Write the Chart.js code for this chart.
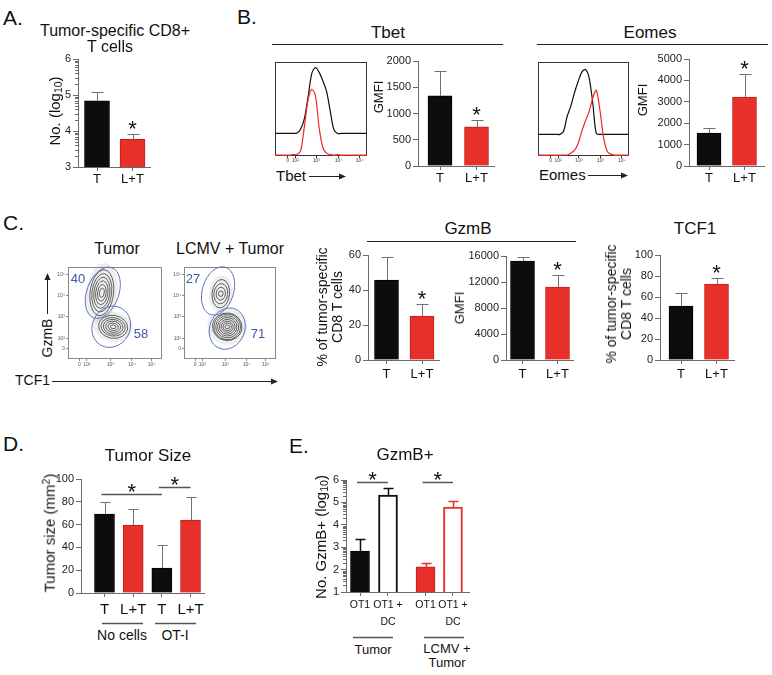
<!DOCTYPE html>
<html>
<head>
<meta charset="utf-8">
<script src="https://cdn.jsdelivr.net/npm/chart.js@4"></script>
<style>
  body { margin: 0; background: #fff; }
  #fig { position: relative; width: 772px; height: 675px; overflow: hidden; font-family: "Liberation Sans", Arial, sans-serif; color: #111; }
  #fig canvas { position: absolute; }
  #lines { position: absolute; left: 0; top: 0; }
  .t { position: absolute; white-space: nowrap; line-height: 1.1; text-align: center; transform: translate(-50%, -50%); }
  .t.l { transform: translate(0, -50%); }
  .t.r { transform: translate(-50%, -50%) rotate(-90deg); }
  .t sub { font-size: 0.7em; vertical-align: -0.25em; line-height: 0; }
  .t sup { font-size: 0.7em; vertical-align: 0.45em; line-height: 0; }
</style>
</head>
<body>
<div id="fig"><svg id="lines" width="772" height="675"></svg></div>
<script>
const FONT = '"Liberation Sans", Arial, sans-serif';
Chart.defaults.font.family = FONT;
Chart.defaults.color = '#111';

// A. tumor-specific CD8+ T cells (log10 counts)
const groupLabels = ['T', 'L+T'];
const twoPos = [1, 2];
const cd8Log = [4.84, 3.77];
const cd8LogErr = [0.25, 0.16];
const cd8Sig = ['', '*'];

// B. Tbet / Eomes GMFI
const tbetMfi = [1335, 745];
const tbetMfiErr = [475, 130];
const tbetSig = ['', '*'];
const eomesMfi = [1540, 3225];
const eomesMfiErr = [235, 1075];
const eomesSig = ['', '*'];

// B. histograms (T black, L+T red)
const histBins = [0, 4, 8, 12, 16, 20, 24, 28, 32, 36, 40, 44, 48, 52, 56, 60, 64, 68, 72, 76, 80, 84, 88, 92, 96, 100];
const tbetHistT = [24, 24, 24, 24, 24, 24, 24.5, 29, 40, 63, 88, 94, 89, 80, 69, 48, 28, 24, 24, 24, 24, 24, 24, 24, 24, 24];
const tbetHistLT = [1, 1, 1, 1, 1, 1.5, 1.5, 6, 32, 60, 71, 64, 30, 9, 3, 1.5, 1, 1.5, 1, 1, 1, 1, 1, 1, 1, 1];
const eomesHistT = [23, 23, 23, 23, 23, 23, 23, 26, 42, 53, 67, 79, 89, 92, 84, 58, 24, 23, 23, 23, 23, 23, 23, 23, 23, 23];
const eomesHistLT = [1, 1, 1, 1, 1, 1, 1, 1, 1, 3, 6, 13, 26, 37, 47, 61, 70, 49, 20, 5, 2, 1, 1, 1, 1, 1];
const histTickPos = [14, 22, 45, 69, 92];
const logTickLabels = ['0', '10²', '10³', '10⁴', '10⁵'];

// C. flow plots GzmB vs TCF1
const flowXTickPos = [12, 20, 45, 68, 89];
const flowYTickPos = [11, 22, 46, 69, 92];
const tumorGateFreq = ['40', '58'];
const lcmvGateFreq = ['27', '71'];
const tumorContourCx = [36, 48];
const tumorContourCy = [72, 35];
const tumorContourRx = [[2.5, 4.5, 6.5, 8.5, 10.5, 12.5], [3, 5.5, 8, 10.5, 13, 15.5]];
const tumorContourRy = [[5, 9, 13, 17, 21, 25], [2, 4, 6, 8, 10, 12.5]];
const tumorContourRot = [0.12, 0.15];
const lcmvContourCx = [40, 47];
const lcmvContourCy = [71, 35];
const lcmvContourRx = [[2.5, 5, 7.5, 9.5], [2.5, 4.5, 6.5, 8.5, 10.5, 12.5, 14.5, 16]];
const lcmvContourRy = [[3, 7, 11, 15.5], [2, 4, 6, 8, 10, 12, 14, 15]];
const lcmvContourRot = [0.1, 0.1];
const tumorGateCx = [37, 46];
const tumorGateCy = [72, 35];
const tumorGateRx = [17, 20];
const tumorGateRy = [29, 23];
const tumorGateRot = [0.35, 0.5];
const lcmvGateCx = [37, 47];
const lcmvGateCy = [74, 33];
const lcmvGateRx = [17, 19];
const lcmvGateRy = [27, 23];
const lcmvGateRot = [0.3, 0.4];

// C. GzmB and TCF1 bars
const gzmbPct = [45.7, 25.1];
const gzmbPctErr = [13.2, 6.9];
const gzmbPctSig = ['', '*'];
const gzmbMfi = [15230, 11230];
const gzmbMfiErr = [620, 1850];
const gzmbMfiSig = ['', '*'];
const tcf1Pct = [51.4, 72.4];
const tcf1PctErr = [12.6, 5.7];
const tcf1PctSig = ['', '*'];

// D. tumor size
const sizeLabels = ['T', 'L+T', 'T', 'L+T'];
const fourPos = [1, 2, 3, 4];
const sizeMm2 = [69.3, 59.6, 21.9, 64];
const sizeMm2Err = [10.5, 14.1, 20.1, 20];
const sizeGroups = ['No cells', 'OT-I'];
const sizeSigFrom = [0, 2];
const sizeSigTo = [2, 3];
const sizeSigAt = [87, 93];

// E. GzmB+ counts (log10)
const gzmbPlusLabels = ['OT1', ['OT1 +', 'DC'], 'OT1', ['OT1 +', 'DC']];
const gzmbPlusPos = [1, 2, 3.34, 4.32];
const gzmbPlusLog = [2.83, 5.33, 2.12, 4.79];
const gzmbPlusLogErr = [0.54, 0.31, 0.17, 0.27];
const gzmbPlusGroups = ['Tumor', 'LCMV +<br>Tumor'];
const gzmbPlusSigFrom = [0, 2];
const gzmbPlusSigTo = [1, 3];
const gzmbPlusSigAt = [5.91, 5.91];

const BLACK = '#0d0d0d', RED = '#e8302a', RED_EDGE = '#c21f18', ERR = '#707070', AXIS = '#6a6a6a';
const fig = document.getElementById('fig');

function addCanvas(x, y, w, h) {
  const c = document.createElement('canvas');
  c.width = w; c.height = h;
  c.style.left = x + 'px'; c.style.top = y + 'px';
  c.style.width = w + 'px'; c.style.height = h + 'px';
  fig.appendChild(c);
  return c;
}

function text(html, x, y, size, cls, extra) {
  const el = document.createElement('div');
  el.className = 't' + (cls ? ' ' + cls : '');
  el.innerHTML = html;
  el.style.left = x + 'px';
  el.style.top = y + 'px';
  el.style.fontSize = size + 'px';
  if (extra) Object.assign(el.style, extra);
  fig.appendChild(el);
}

// error bars, stars, significance lines, log minor ticks
const marks = {
  id: 'marks',
  afterDatasetsDraw(chart, args, o) {
    const ctx = chart.ctx, xs = chart.scales.x, ys = chart.scales.y;
    const bars = chart.getDatasetMeta(0).data;
    ctx.save();
    ctx.lineWidth = 1;
    if (o.log) {
      ctx.strokeStyle = AXIS;
      for (let n = ys.min; n < ys.max; n++) {
        for (let k = 2; k < 10; k++) {
          const py = Math.round(ys.getPixelForValue(n + Math.log10(k))) + 0.5;
          ctx.beginPath(); ctx.moveTo(xs.left - 3, py); ctx.lineTo(xs.left, py); ctx.stroke();
        }
      }
    }
    ctx.fillStyle = '#111';
    ctx.font = '22px ' + FONT;
    ctx.textAlign = 'center';
    bars.forEach((b, i) => {
      const top = Math.round(ys.getPixelForValue(o.values[i] + o.errors[i])) + 0.5;
      const x = Math.round(b.x) + 0.5;
      ctx.strokeStyle = o.errColor[i];
      ctx.lineWidth = o.errWidth;
      ctx.beginPath();
      ctx.moveTo(x, b.y); ctx.lineTo(x, top);
      ctx.moveTo(x - o.cap, top); ctx.lineTo(x + o.cap, top);
      ctx.stroke();
      if (o.stars && o.stars[i]) ctx.fillText(o.stars[i], b.x, top + 1);
    });
    (o.sig || []).forEach(s => {
      const py = Math.round(ys.getPixelForValue(s.at)) + 0.5;
      const x1 = bars[s.from].x - 3, x2 = bars[s.to].x;
      ctx.strokeStyle = '#555';
      ctx.lineWidth = 1.5;
      ctx.beginPath(); ctx.moveTo(x1, py); ctx.lineTo(x2, py); ctx.stroke();
      ctx.fillText('*', (x1 + x2) / 2, py + 4);
    });
    ctx.restore();
  }
};

const frame = {
  id: 'frame',
  beforeDatasetsDraw(chart, args, o) {
    const { ctx, chartArea: c } = chart;
    ctx.save();
    ctx.strokeStyle = o.color;
    ctx.lineWidth = 1;
    ctx.strokeRect(c.left + 0.5, c.top + 0.5, c.width - 1, c.height - 1);
    ctx.restore();
  }
};

const flowDraw = {
  id: 'flowDraw',
  afterDatasetsDraw(chart, args, o) {
    const { ctx, scales: { x, y } } = chart;
    const path = (cx, cy, rx, ry, rot) => {
      const px = x.getPixelForValue(cx), py = y.getPixelForValue(cy);
      ctx.beginPath();
      ctx.ellipse(px, py, Math.abs(x.getPixelForValue(cx + rx) - px), Math.abs(y.getPixelForValue(cy + ry) - py), rot, 0, Math.PI * 2);
    };
    const c = o.contours;
    ctx.save();
    // faint cloud of events around each population
    ctx.fillStyle = 'rgba(90,90,90,0.10)';
    c.cx.forEach((cx, i) => {
      const n = c.rx[i].length - 1;
      path(cx, c.cy[i], c.rx[i][n] * 1.35, c.ry[i][n] * 1.3, c.rot[i]);
      ctx.fill();
    });
    ctx.strokeStyle = '#3a3a3a';
    ctx.lineWidth = 0.8;
    c.cx.forEach((cx, i) => {
      c.rx[i].forEach((rx, j) => { path(cx, c.cy[i], rx, c.ry[i][j], c.rot[i]); ctx.stroke(); });
    });
    ctx.strokeStyle = '#5b74bd';
    ctx.lineWidth = 1;
    o.gates.cx.forEach((cx, i) => {
      path(cx, o.gates.cy[i], o.gates.rx[i], o.gates.ry[i], o.gates.rot[i]);
      ctx.stroke();
    });
    ctx.restore();
  }
};

function bars(g, d) {
  const P = 16;
  const left = g.L - g.W, top = g.top - P;
  const cv = addCanvas(left, top, g.right - left + 6, g.bottom - top + g.H);
  const xmin = d.pos[0] - (g.c1 - g.L) / g.k;
  const xmax = xmin + (g.right - g.L) / g.k;
  new Chart(cv, {
    type: 'bar',
    data: {
      datasets: [{
        data: d.pos.map((p, i) => ({ x: p, y: d.values[i] })),
        backgroundColor: d.fill,
        borderColor: d.stroke,
        borderWidth: d.bw,
        barThickness: g.bar
      }]
    },
    options: {
      responsive: false,
      animation: false,
      events: [],
      layout: { padding: { top: P, right: 6, left: 0, bottom: 0 } },
      scales: {
        x: {
          type: 'linear', min: xmin, max: xmax, offset: false,
          afterFit: s => { s.height = g.H; },
          afterBuildTicks: s => { s.ticks = d.pos.map(v => ({ value: v })); },
          ticks: { callback: (v, i) => d.labels[i], autoSkip: false, maxRotation: 0, padding: g.xpad, color: '#111', font: d.xFont || { size: 13 } },
          grid: { drawOnChartArea: false, offset: false, tickLength: 4, color: AXIS },
          border: { color: AXIS }
        },
        y: {
          min: d.min, max: d.max,
          afterFit: s => { s.width = g.W; },
          ticks: { stepSize: d.step, callback: v => String(v), color: '#222', font: { size: 11 }, padding: 2 },
          grid: { drawOnChartArea: false, tickLength: 5, color: AXIS },
          border: { color: AXIS }
        }
      },
      plugins: {
        legend: { display: false },
        tooltip: { enabled: false },
        marks: {
          values: d.values, errors: d.errors, errColor: d.errColor, errWidth: d.errWidth || 1,
          cap: g.cap, stars: d.stars, sig: d.sig, log: d.log
        }
      }
    },
    plugins: [marks]
  });
}

function hist(box, tSeries, ltSeries) {
  const cv = addCanvas(box.x, box.y, box.w, box.h + 9);
  const line = (series, color) => ({
    data: histBins.map((b, i) => ({ x: b, y: series[i] })),
    borderColor: color, borderWidth: 1.2, pointRadius: 0, tension: 0.3
  });
  new Chart(cv, {
    type: 'line',
    data: { datasets: [line(ltSeries, '#ee2a24'), line(tSeries, '#111')] },
    options: {
      responsive: false, animation: false, events: [],
      layout: { padding: 0 },
      scales: {
        x: {
          type: 'linear', min: 0, max: 100,
          afterFit: s => { s.height = 9; },
          afterBuildTicks: s => { s.ticks = histTickPos.map(v => ({ value: v })); },
          ticks: { callback: (v, i) => logTickLabels[i], font: { size: 5 }, color: '#444', padding: 0, maxRotation: 0, autoSkip: false },
          grid: { drawOnChartArea: false, tickLength: 2, color: '#333' },
          border: { display: false }
        },
        y: { display: false, min: 0, max: 100 }
      },
      plugins: { legend: { display: false }, tooltip: { enabled: false }, frame: { color: '#333' } }
    },
    plugins: [frame]
  });
}

function flow(box, contours, gates) {
  const cv = addCanvas(box.x - 12, box.y - 4, box.w + 14, box.h + 14);
  const tiny = { font: { size: 5 }, color: '#555', padding: 1, maxRotation: 0, autoSkip: false, callback: (v, i) => logTickLabels[i] };
  new Chart(cv, {
    type: 'scatter',
    data: { datasets: [] },
    options: {
      responsive: false, animation: false, events: [],
      layout: { padding: { top: 4, right: 2, left: 0, bottom: 0 } },
      scales: {
        x: {
          type: 'linear', min: 0, max: 100,
          afterFit: s => { s.height = 10; },
          afterBuildTicks: s => { s.ticks = flowXTickPos.map(v => ({ value: v })); },
          ticks: tiny,
          grid: { drawOnChartArea: false, tickLength: 2, color: '#888' },
          border: { display: false }
        },
        y: {
          type: 'linear', min: 0, max: 100,
          afterFit: s => { s.width = 12; },
          afterBuildTicks: s => { s.ticks = flowYTickPos.map(v => ({ value: v })); },
          ticks: tiny,
          grid: { drawOnChartArea: false, tickLength: 2, color: '#888' },
          border: { display: false }
        }
      },
      plugins: { legend: { display: false }, tooltip: { enabled: false }, frame: { color: '#888' }, flowDraw: { contours, gates } }
    },
    plugins: [frame, flowDraw]
  });
}

const twoFill = [BLACK, RED], twoStroke = ['#000', RED_EDGE], twoErr = [ERR, ERR];

// A
bars({ L: 78, top: 59, bottom: 167, right: 150, c1: 97, k: 35.5, W: 26, H: 28, bar: 25, cap: 6, xpad: 1 },
  { pos: twoPos, labels: groupLabels, values: cd8Log, errors: cd8LogErr, stars: cd8Sig, min: 3, max: 6, step: 1, log: true,
    fill: twoFill, stroke: twoStroke, bw: 1, errColor: twoErr });

// B
hist({ x: 275, y: 62, w: 92, h: 94 }, tbetHistT, tbetHistLT);
hist({ x: 538, y: 62, w: 91, h: 94 }, eomesHistT, eomesHistLT);
bars({ L: 418, top: 61, bottom: 166, right: 494, c1: 440, k: 36.5, W: 40, H: 28, bar: 24, cap: 6, xpad: 1 },
  { pos: twoPos, labels: groupLabels, values: tbetMfi, errors: tbetMfiErr, stars: tbetSig, min: 0, max: 2000, step: 500,
    fill: twoFill, stroke: twoStroke, bw: 1, errColor: twoErr });
bars({ L: 689, top: 59, bottom: 166, right: 764, c1: 709, k: 35.5, W: 40, H: 28, bar: 24, cap: 6, xpad: 1 },
  { pos: twoPos, labels: groupLabels, values: eomesMfi, errors: eomesMfiErr, stars: eomesSig, min: 0, max: 5000, step: 1000,
    fill: twoFill, stroke: twoStroke, bw: 1, errColor: twoErr });

// C
flow({ x: 68, y: 267, w: 94, h: 92 },
  { cx: tumorContourCx, cy: tumorContourCy, rx: tumorContourRx, ry: tumorContourRy, rot: tumorContourRot },
  { cx: tumorGateCx, cy: tumorGateCy, rx: tumorGateRx, ry: tumorGateRy, rot: tumorGateRot });
flow({ x: 184, y: 267, w: 92, h: 92 },
  { cx: lcmvContourCx, cy: lcmvContourCy, rx: lcmvContourRx, ry: lcmvContourRy, rot: lcmvContourRot },
  { cx: lcmvGateCx, cy: lcmvGateCy, rx: lcmvGateRx, ry: lcmvGateRy, rot: lcmvGateRot });
bars({ L: 368, top: 255, bottom: 360, right: 439, c1: 386.5, k: 35.5, W: 30, H: 28, bar: 24, cap: 6, xpad: 3 },
  { pos: twoPos, labels: groupLabels, values: gzmbPct, errors: gzmbPctErr, stars: gzmbPctSig, min: 0, max: 60, step: 20,
    fill: twoFill, stroke: twoStroke, bw: 1, errColor: twoErr });
bars({ L: 506, top: 256, bottom: 360, right: 573, c1: 522.5, k: 35, W: 42, H: 28, bar: 24, cap: 6, xpad: 3 },
  { pos: twoPos, labels: groupLabels, values: gzmbMfi, errors: gzmbMfiErr, stars: gzmbMfiSig, min: 0, max: 16000, step: 4000,
    fill: twoFill, stroke: twoStroke, bw: 1, errColor: twoErr });
bars({ L: 660, top: 255, bottom: 360, right: 734, c1: 681, k: 35.5, W: 30, H: 28, bar: 24, cap: 6, xpad: 3 },
  { pos: twoPos, labels: groupLabels, values: tcf1Pct, errors: tcf1PctErr, stars: tcf1PctSig, min: 0, max: 100, step: 20,
    fill: twoFill, stroke: twoStroke, bw: 1, errColor: twoErr });

// D
bars({ L: 81, top: 479, bottom: 593, right: 204, c1: 104.5, k: 28.67, W: 30, H: 30, bar: 20, cap: 5, xpad: 4 },
  { pos: fourPos, labels: sizeLabels, values: sizeMm2, errors: sizeMm2Err, min: 0, max: 100, step: 20,
    sig: sizeSigFrom.map((f, i) => ({ from: f, to: sizeSigTo[i], at: sizeSigAt[i] })),
    fill: [BLACK, RED, BLACK, RED], stroke: ['#000', RED_EDGE, '#000', RED_EDGE], bw: 1, errColor: [ERR, ERR, ERR, ERR],
    xFont: { size: 15 } });

// E
bars({ L: 346, top: 480, bottom: 592, right: 469, c1: 360, k: 28, W: 20, H: 40, bar: 19, cap: 5, xpad: 1 },
  { pos: gzmbPlusPos, labels: gzmbPlusLabels, values: gzmbPlusLog, errors: gzmbPlusLogErr, min: 1, max: 6, step: 1, log: true,
    sig: gzmbPlusSigFrom.map((f, i) => ({ from: f, to: gzmbPlusSigTo[i], at: gzmbPlusSigAt[i] })),
    fill: [BLACK, '#fff', RED, '#fff'], stroke: ['#000', '#111', RED_EDGE, RED], bw: [1, 2, 1, 2],
    errColor: [BLACK, BLACK, RED, RED], errWidth: 1.5,
    xFont: { size: 10.5, lineHeight: 1.6 } });

// lines and arrows
const svg = [];
const seg = (x1, y1, x2, y2, col = '#222', w = 1) =>
  svg.push(`<line x1="${x1}" y1="${y1}" x2="${x2}" y2="${y2}" stroke="${col}" stroke-width="${w}"/>`);
const head = (x, y, dir) => {
  const p = dir === 'right' ? `${x},${y} ${x - 7},${y - 3} ${x - 7},${y + 3}` : `${x},${y} ${x - 3},${y + 7} ${x + 3},${y + 7}`;
  svg.push(`<polygon points="${p}" fill="#222"/>`);
};
seg(272, 44.5, 503, 44.5);
seg(537, 44.5, 768, 44.5);
seg(367, 241.5, 576, 241.5);
seg(309, 176.5, 340, 176.5); head(346, 176.5, 'right');
seg(588, 175.5, 622, 175.5); head(628, 175.5, 'right');
seg(47.5, 314, 47.5, 279); head(47.5, 273, 'up');
seg(52, 381.5, 272, 381.5); head(278, 381.5, 'right');
seg(102, 623.5, 143, 623.5, '#555', 1.3); seg(155, 623.5, 196, 623.5, '#555', 1.3);
seg(353, 637.5, 393, 637.5, '#555', 1.3); seg(424, 637.5, 464, 637.5, '#555', 1.3);
document.getElementById('lines').innerHTML = svg.join('');

// texts
text('A.', 3, 18, 21, 'l');
text('Tumor-specific CD8+', 115, 31, 16);
text('T cells', 110, 47, 16);
text('No. (log<sub>10</sub>)', 55, 111, 15, 'r');

text('B.', 237, 17, 21, 'l');
text('Tbet', 388, 33, 17);
text('Eomes', 650, 33, 17);
text('GMFI', 379, 97, 13, 'r');
text('GMFI', 643, 100, 13, 'r');
text('Tbet', 276, 176, 15, 'l');
text('Eomes', 539, 175, 15, 'l');

text('C.', 3, 223, 21, 'l');
text('Tumor', 117, 249, 16);
text('LCMV + Tumor', 230, 249, 16);
text('GzmB', 47.5, 338, 14, 'r');
text('TCF1', 15, 381, 14, 'l');
const gateBlue = { color: '#3d58a8' };
text(tumorGateFreq[0], 78, 279, 13, '', gateBlue);
text(tumorGateFreq[1], 141, 334, 13, '', gateBlue);
text(lcmvGateFreq[0], 193, 279, 13, '', gateBlue);
text(lcmvGateFreq[1], 258, 334, 13, '', gateBlue);
text('GzmB', 468, 229, 17);
text('TCF1', 695, 229, 17);
text('% of tumor-specific<br>CD8 T cells', 329.5, 307, 14, 'r', { lineHeight: '15px' });
text('GMFI', 460, 308, 13, 'r');
text('% of tumor-specific<br>CD8 T cells', 618.5, 304, 14, 'r', { lineHeight: '15px' });

text('D.', 3, 443.5, 21, 'l');
text('Tumor Size', 148, 456, 17);
text('Tumor size (mm<sup>2</sup>)', 50, 533, 15, 'r');
text(sizeGroups[0], 122, 636, 14);
text(sizeGroups[1], 175, 636, 14);

text('E.', 289, 446, 21, 'l');
text('GzmB+', 405, 455, 17);
text('No. GzmB+ (log<sub>10</sub>)', 321, 537, 15, 'r');
text(gzmbPlusGroups[0], 373, 650, 13);
text(gzmbPlusGroups[1], 447, 656, 13, '', { lineHeight: '14px' });
</script>
</body>
</html>
